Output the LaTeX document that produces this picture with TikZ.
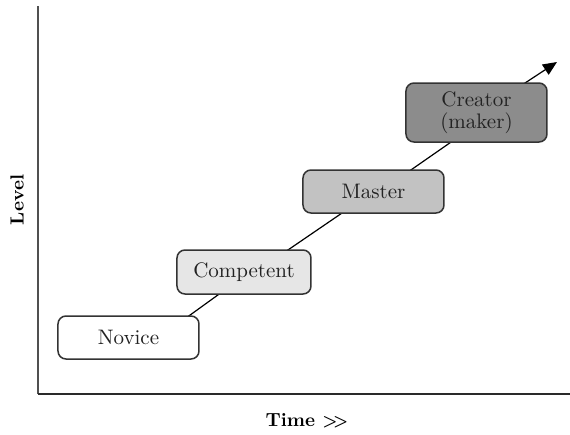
\documentclass[tikz,border=0pt]{standalone}
\usetikzlibrary{arrows.meta,calc}
\definecolor{boxline}{HTML}{333333}
\definecolor{fillA}{HTML}{FFFFFF}
\definecolor{fillB}{HTML}{E6E6E6}
\definecolor{fillC}{HTML}{C2C2C2}
\definecolor{fillD}{HTML}{8C8C8C}
\definecolor{axisV}{HTML}{505050}
\definecolor{axisH}{HTML}{2A2A2A}
\definecolor{textgray}{HTML}{222222}
\tikzset{
  stagebox/.style={draw=boxline, line width=0.75pt, rounded corners=4pt,
    inner sep=0pt, align=center, text=textgray, font=\fontsize{10.5}{11}\selectfont},
  linkline/.style={line width=0.6pt, black},
  axisline/.style={line width=0.8pt},
  axislabel/.style={font=\bfseries\fontsize{9.5}{10}\selectfont}
}
\begin{document}
\begin{tikzpicture}[x=0.5pt,y=-0.5pt]
\useasboundingbox (0,0) rectangle (570,435);
% axes
\coordinate (top) at (38,6);
\coordinate (origin) at (38,394);
\coordinate (right) at (570,394);
\draw[axisline, axisV] (top) -- (origin);
\draw[axisline, axisH] (origin) -- (right);
\node[axislabel, rotate=90] (level) at (17,200) {Level};
\node[axislabel] (time) at (307,421) {Time {\fontsize{8.5}{10}\selectfont>\kern-2.2pt>}};
% connector points
\coordinate (a1) at (186,318);
\coordinate (b1) at (222,292);
\coordinate (a2) at (285,252);
\coordinate (b2) at (345,211);
\coordinate (a3) at (408,172);
\coordinate (b3) at (454,140);
\coordinate (a4) at (522,85);
\coordinate (tip) at (557,62);
\draw[linkline] (a1) -- (b1);
\draw[linkline] (a2) -- (b2);
\draw[linkline] (a3) -- (b3);
\draw[linkline, -{Triangle[length=7pt,width=6pt]}] (a4) -- (tip);
% boxes
\node[stagebox, fill=fillA, minimum width=70.5pt, minimum height=21.5pt] (novice) at (128.5,337.5) {Novice};
\node[stagebox, fill=fillB, minimum width=67pt, minimum height=22pt] (competent) at (244,272) {Competent};
\node[stagebox, fill=fillC, minimum width=70.5pt, minimum height=21.5pt] (master) at (373.5,191.5) {Master};
\node[stagebox, fill=fillD, minimum width=70.5pt, minimum height=29.5pt] (creator) at (476.5,112.5) {Creator\\(maker)};
\end{tikzpicture}
\end{document}
